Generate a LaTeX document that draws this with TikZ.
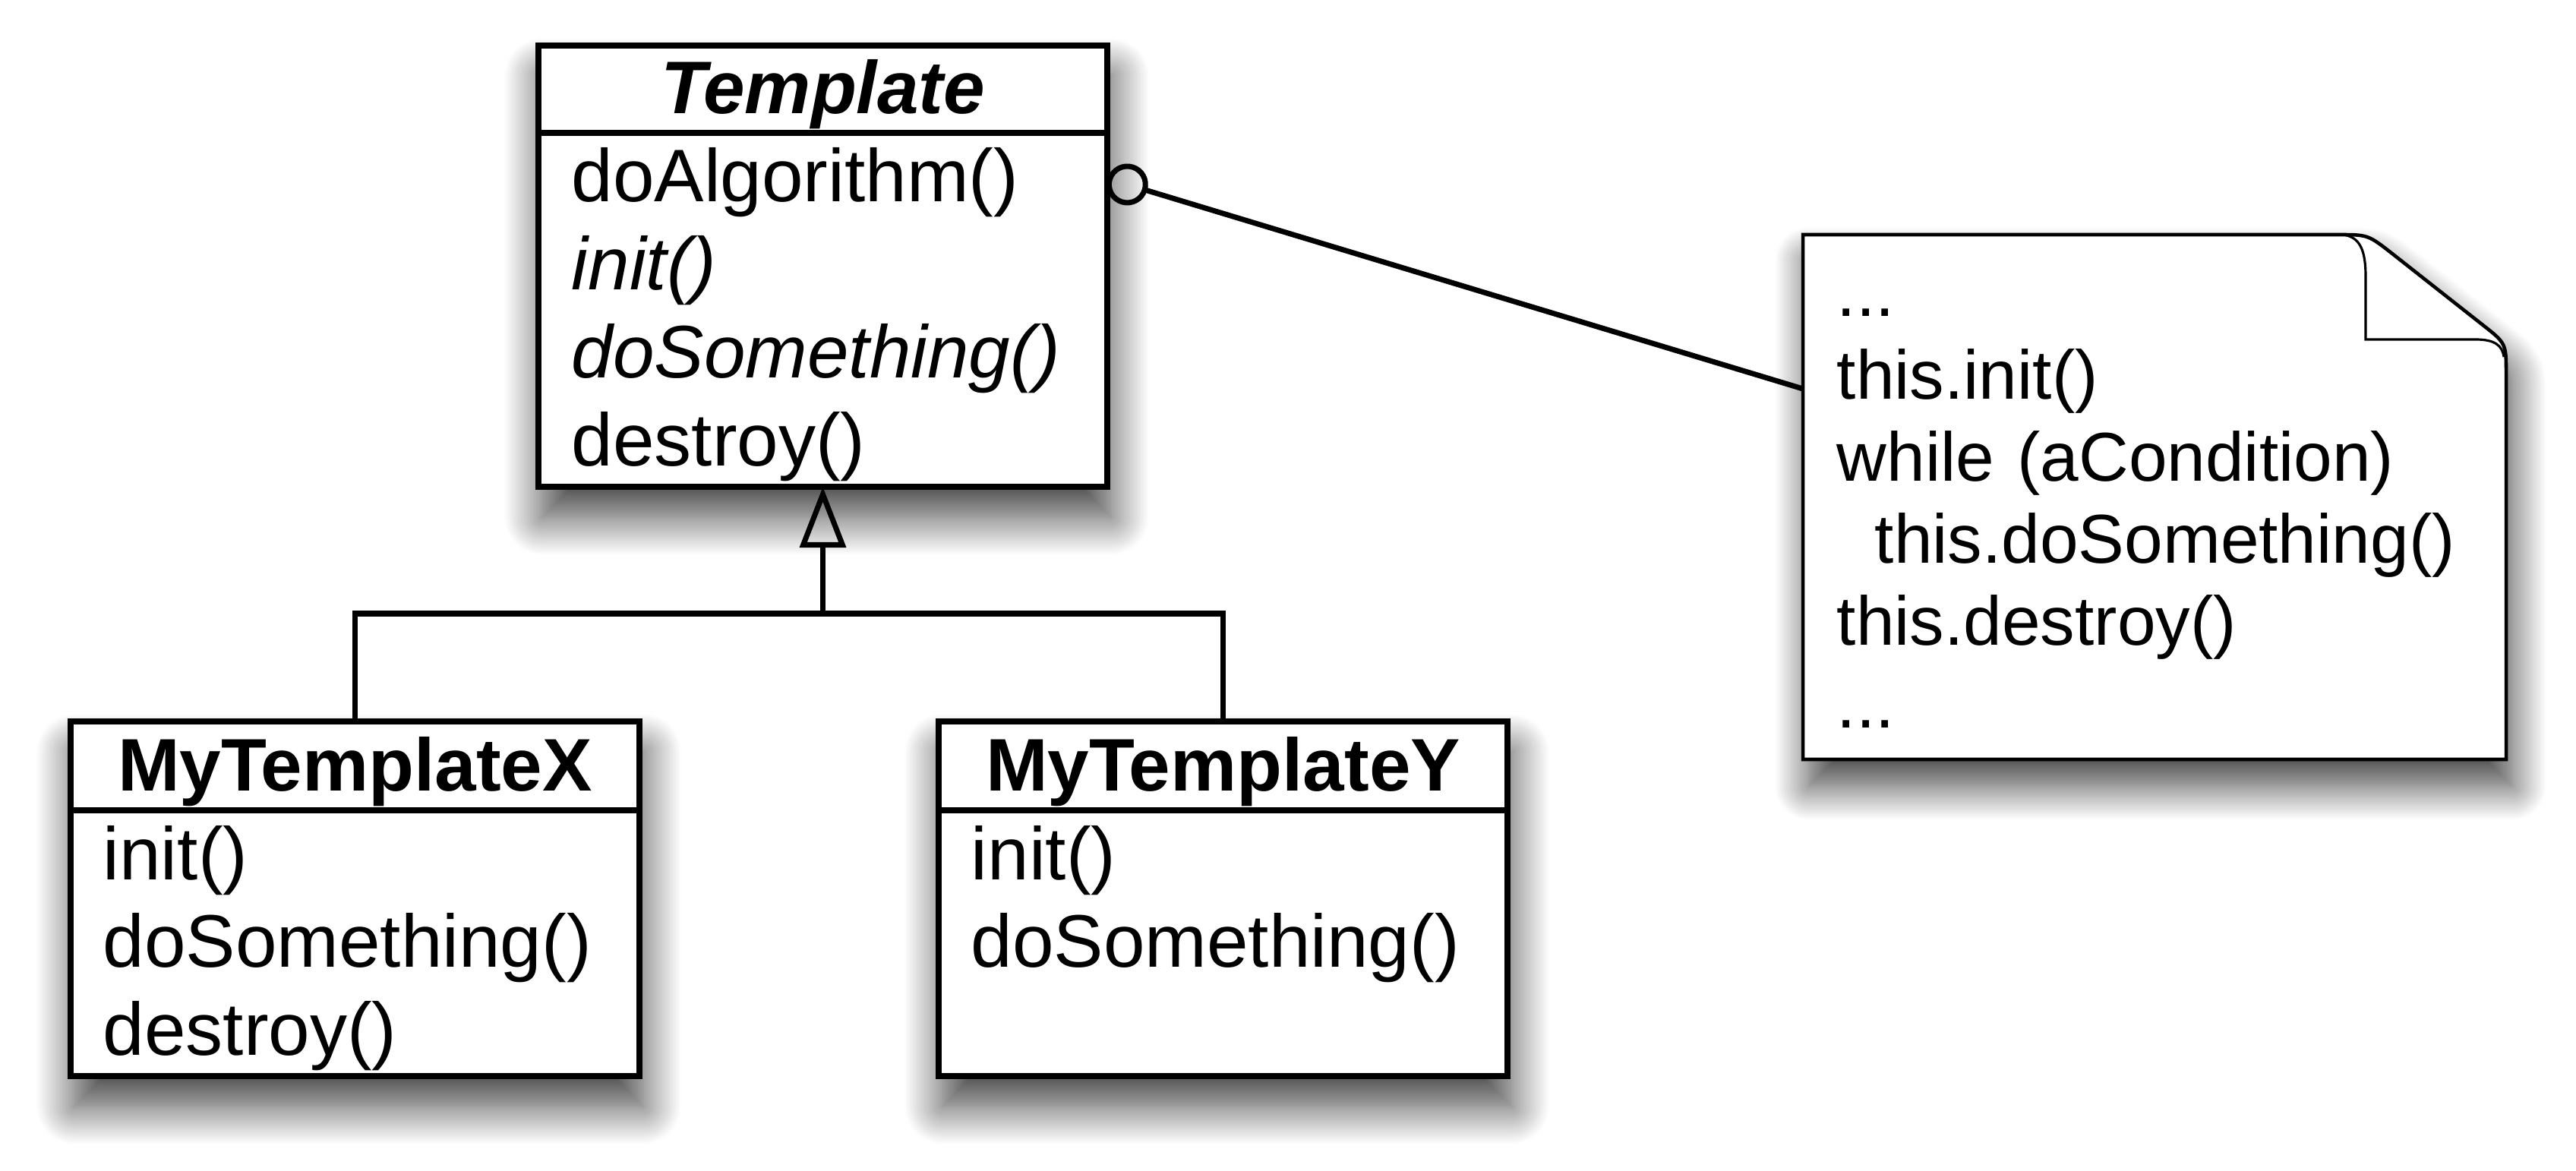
\documentclass[tikz,border=0pt]{standalone}
\usepackage{fontspec}
\setmainfont{Liberation Sans}
\usepackage{tikz}
\usetikzlibrary{arrows.meta,calc,positioning,shadows.blur}

\begin{document}
\begin{tikzpicture}[
    classbox/.style={draw,line width=2.3pt,fill=white,inner sep=0pt,outer sep=0pt,minimum width=7.49cm,
      blur shadow={shadow xshift=0.05cm,shadow yshift=-0.4cm,shadow blur radius=0.5cm,shadow blur steps=25,shadow opacity=75}},
    classname/.style={anchor=base,inner sep=0pt,font=\fontsize{27.9pt}{33pt}\selectfont\bfseries},
    classops/.style={anchor=base west,inner sep=0pt,text width=7cm,align=left,font=\fontsize{27.9pt}{33pt}\selectfont},
    notebox/.style={inner sep=0pt,outer sep=0pt,minimum width=9.26cm,minimum height=6.91cm},
    notetext/.style={anchor=base west,inner sep=0pt,text width=8.6cm,align=left,font=\fontsize{25.9pt}{30.8pt}\selectfont},
    conn/.style={line width=2pt},
  ]
  \useasboundingbox (0,0) rectangle (33.92,-15.42);

  % the abstract class
  \node[classbox,minimum height=5.81cm] (template) at (10.835,-3.505) {};
  \node[classname] (templatename) at ($(template.north)+(0,-0.90)$) {\itshape Template};
  \draw[line width=2.3pt] ($(template.north west)+(0,-1.15)$) -- ($(template.north east)+(0,-1.15)$);
  \node[classops] (templateops) at ($(template.north west)+(0.43,-2.06)$)
    {doAlgorithm()\\ \textit{init()}\\ \textit{doSomething()}\\ destroy()};

  % the two subclasses
  \node[classbox,minimum height=4.67cm,below=3.09cm of template,xshift=-6.16cm] (myx) {};
  \node[classname] (myxname) at ($(myx.north)+(0,-0.91)$) {MyTemplateX};
  \draw[line width=2.3pt] ($(myx.north west)+(0,-1.17)$) -- ($(myx.north east)+(0,-1.17)$);
  \node[classops] (myxops) at ($(myx.north west)+(0.42,-2.08)$) {init()\\ doSomething()\\ destroy()};

  \node[classbox,minimum height=4.67cm,right=3.94cm of myx] (myy) {};
  \node[classname] (myyname) at ($(myy.north)+(0,-0.91)$) {MyTemplateY};
  \draw[line width=2.3pt] ($(myy.north west)+(0,-1.17)$) -- ($(myy.north east)+(0,-1.17)$);
  \node[classops] (myyops) at ($(myy.north west)+(0.42,-2.08)$) {init()\\ doSomething()};

  % generalization
  \coordinate (genjoin) at ($(template.south)+(0,-1.67)$);
  \draw[conn] (myx.north) |- (genjoin) -| (myy.north);
  \draw[conn,-{Triangle[open,length=0.8cm,width=0.6cm]}] (genjoin) -- (template.south);

  % the note
  \node[notebox,right=9.16cm of template,yshift=-3.04cm] (note) {};
  \path[draw,line width=1.3pt,fill=white,
      blur shadow={shadow xshift=0.08cm,shadow yshift=-0.35cm,shadow blur radius=0.45cm,shadow blur steps=25,shadow opacity=75}]
    (note.north west) -- ($(note.north east)+(-2.22,0)$)
    .. controls ($(note.north east)+(-1.82,0)$) .. ($(note.north east)+(-1.50,-0.25)$)
    -- ($(note.north east)+(-0.32,-1.18)$)
    .. controls ($(note.north east)+(0,-1.43)$) .. ($(note.north east)+(0,-1.83)$)
    -- (note.south east) -- (note.south west) -- cycle;
  \begin{scope}[shift={(note.north east)}]
    \draw[line width=0.9pt] (-2.15,0) .. controls (-1.92,-0.03) and (-1.85,-0.21) .. (-1.85,-0.56)
      -- (-1.85,-1.38) -- (-0.40,-1.38) .. controls (-0.15,-1.38) and (-0.05,-1.46) .. (-0.03,-1.61);
  \end{scope}
  \node[notetext] (notelines) at ($(note.north west)+(0.44,-1.08)$)
    {...\\ this.init()\\ while (aCondition)\\ \hspace*{0.5cm}this.doSomething()\\ this.destroy()\\ ...};

  % association to the note
  \coordinate (assoc) at ($(template.north east)+(0,-1.75)$);
  \coordinate (notelink) at ($(note.north west)+(0,-2.03)$);
  \draw[conn,{Circle[open,length=0.55cm]}-] (assoc) -- (notelink);
\end{tikzpicture}
\end{document}
